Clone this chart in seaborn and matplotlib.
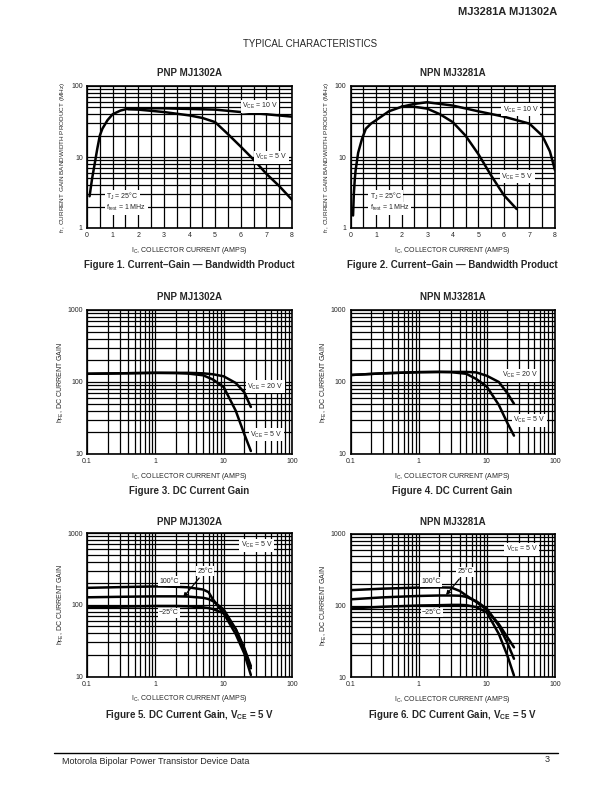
import numpy as np
import pandas as pd
import seaborn as sns
from matplotlib import pyplot as plt
from matplotlib.ticker import FixedLocator, NullFormatter

# ---- data ----
# Figure 1: PNP MJ1302A, fT vs IC
f1_ic_rise = [0.1, 0.2, 0.3, 0.4, 0.5, 0.6, 0.8, 1.0, 1.3, 1.6, 2.0]
f1_ft_rise = [2.8, 5.0, 8.0, 13.0, 20.0, 25.0, 33.0, 40.0, 45.0, 48.0, 48.5]
f1_ic_10v = [2.0, 3.0, 4.0, 5.0, 6.0, 7.0, 8.0]
f1_ft_10v = [48.5, 48.5, 47.5, 46.5, 43.0, 40.0, 37.0]
f1_ic_5v = [1.6, 2.0, 3.0, 4.0, 4.5, 5.0, 5.5, 6.0, 6.5, 7.0, 7.5, 8.0]
f1_ft_5v = [47.0, 46.5, 43.0, 38.5, 35.5, 31.0, 21.0, 14.0, 9.2, 5.8, 3.9, 2.5]

# Figure 2: NPN MJ3281A, fT vs IC
f2_ic_rise = [0.1, 0.13, 0.17, 0.2, 0.3, 0.45, 0.6, 0.8, 1.0, 1.5, 2.0]
f2_ft_rise = [1.5, 3.0, 5.0, 6.5, 11.5, 18.0, 25.0, 29.5, 33.0, 44.0, 51.0]
f2_ic_10v = [2.0, 2.5, 3.0, 3.5, 4.0, 5.0, 6.0, 7.0, 7.5, 7.8, 8.0]
f2_ft_10v = [51.0, 56.0, 59.0, 56.0, 53.0, 44.0, 37.0, 29.5, 20.0, 12.0, 6.5]
f2_ic_5v = [2.0, 2.5, 3.0, 3.5, 4.0, 4.5, 5.0, 5.5, 6.0, 6.5]
f2_ft_5v = [51.0, 51.0, 48.0, 40.0, 31.0, 20.0, 11.0, 5.5, 2.9, 1.85]

# Figure 3: PNP MJ1302A, hFE vs IC
f3_ic = [0.1, 0.3, 1.0, 2.0, 3.0, 5.0, 7.0, 10.0, 15.0, 20.0, 25.0]
f3_hfe_20v = [130, 132, 134, 134, 134, 132, 128, 120, 97, 72, 45]
f3_hfe_5v = [130, 132, 134, 133, 131, 124, 108, 85, 40, 19, 11]

# Figure 4: NPN MJ3281A, hFE vs IC
f4_ic = [0.1, 0.3, 1.0, 2.0, 3.0, 5.0, 7.0, 10.0, 15.0, 20.0, 25.0]
f4_hfe_20v = [125, 132, 137, 138, 138, 138, 136, 122, 100, 70, 50]
f4_hfe_5v = [125, 132, 137, 138, 137, 130, 110, 86, 48, 27, 18]

# Figure 5: PNP MJ1302A, hFE vs IC at three temperatures
f5_ic = [0.1, 0.3, 1.0, 2.0, 3.0, 5.0, 6.0, 7.0, 10.0, 15.0, 20.0, 25.0]
f5_hfe_100 = [172, 176, 180, 178, 175, 163, 150, 118, 76, 39, 21, 10.5]
f5_hfe_25 = [127, 129, 131, 131, 130, 125, 120, 112, 86, 46, 24, 13]
f5_hfe_m25 = [92, 94, 96, 96, 95, 92, 90, 87, 76, 46, 25, 14]

# Figure 6: NPN MJ3281A, hFE vs IC at three temperatures
f6_ic = [0.1, 0.3, 1.0, 2.0, 3.0, 4.0, 5.0, 7.0, 10.0, 15.0, 20.0, 25.0]
f6_hfe_100 = [164, 172, 178, 179, 178, 160, 138, 112, 87, 55, 36, 26]
f6_hfe_25 = [122, 130, 136, 138, 138, 137, 132, 115, 90, 52, 30, 18]
f6_hfe_m25 = [91, 96, 100, 101, 102, 102, 101, 95, 80, 40, 20, 10.5]

sns.set_style("white")
plt.rcParams["font.family"] = ["Liberation Sans", "DejaVu Sans"]
plt.rcParams["mathtext.fontset"] = "custom"
plt.rcParams["mathtext.rm"] = "Liberation Sans"
plt.rcParams["mathtext.it"] = "Liberation Sans"
plt.rcParams["mathtext.bf"] = "Liberation Sans:bold"

W, H = 612, 792
fig = plt.figure(figsize=(W / 100, H / 100), dpi=100)

GRID_LW = 0.9
CURVE_LW = 1.8
BOX = dict(facecolor="white", edgecolor="none", pad=1.0)


def axes_at(left, top, right, bottom):
    return fig.add_axes([left / W, 1 - bottom / H, (right - left) / W, (bottom - top) / H])


def finish(ax):
    ax.grid(True, which="both", color="black", linewidth=GRID_LW)
    ax.set_axisbelow(True)
    ax.tick_params(which="both", length=0, labelsize=5, pad=3)
    for s in ax.spines.values():
        s.set_visible(True)
        s.set_color("black")
        s.set_linewidth(1.2)
    ax.set_xlabel(r"I$_{\mathrm{C}}$, COLLECTOR CURRENT (AMPS)", fontsize=5, labelpad=4)


def ft_frame(ax):
    ax.set_yscale("log")
    ax.set_xlim(0, 8)
    ax.set_ylim(1, 100)
    ax.xaxis.set_major_locator(FixedLocator(range(0, 9)))
    ax.xaxis.set_minor_locator(FixedLocator(np.arange(0.5, 8, 1.0)))
    ax.yaxis.set_major_locator(FixedLocator([1, 10, 100]))
    ax.yaxis.set_minor_locator(FixedLocator([m * d for d in (1, 10) for m in range(2, 10)]))
    ax.yaxis.set_minor_formatter(NullFormatter())
    ax.set_yticklabels(["1", "10", "100"])
    ax.set_ylabel(r"f$_{\mathrm{T}}$, CURRENT GAIN BANDWIDTH PRODUCT (MHz)", fontsize=4.6, labelpad=3)
    finish(ax)


def hfe_frame(ax):
    ax.set_xscale("log")
    ax.set_yscale("log")
    ax.set_xlim(0.1, 100)
    ax.set_ylim(10, 1000)
    ax.xaxis.set_major_locator(FixedLocator([0.1, 1, 10, 100]))
    ax.xaxis.set_minor_locator(FixedLocator([m * d for d in (0.1, 1, 10) for m in range(2, 10)]))
    ax.yaxis.set_major_locator(FixedLocator([10, 100, 1000]))
    ax.yaxis.set_minor_locator(FixedLocator([m * d for d in (10, 100) for m in range(2, 10)]))
    ax.xaxis.set_minor_formatter(NullFormatter())
    ax.yaxis.set_minor_formatter(NullFormatter())
    ax.set_xticklabels(["0.1", "1", "10", "100"])
    ax.set_yticklabels(["10", "100", "1000"])
    ax.set_ylabel(r"h$_{\mathrm{FE}}$, DC CURRENT GAIN", fontsize=5, labelpad=1)
    finish(ax)


def curve(ax, x, y):
    df = pd.DataFrame({"x": x, "y": y})
    sns.lineplot(data=df, x="x", y="y", ax=ax, color="black", linewidth=CURVE_LW,
                 estimator=None, sort=False, zorder=3)


def vce(v):
    return r"V$_{\mathrm{CE}}$ = " + v


def label(ax, x, y, s, ha="center"):
    ax.text(x, y, s, fontsize=5, ha=ha, va="center", bbox=BOX, zorder=5)


def arrow_label(ax, s, tip, at):
    ax.annotate(s, xy=tip, xytext=at, fontsize=5, ha="center", va="center",
                bbox=BOX, zorder=5,
                arrowprops=dict(arrowstyle="-|>", color="black", lw=0.9, mutation_scale=6,
                                shrinkA=2, shrinkB=0))


# ---- row 1: fT ----
ax1 = axes_at(87, 86, 292, 228)
curve(ax1, f1_ic_rise, f1_ft_rise)
curve(ax1, f1_ic_10v, f1_ft_10v)
curve(ax1, f1_ic_5v, f1_ft_5v)
ft_frame(ax1)
label(ax1, 6.75, 52, vce("10 V"))
label(ax1, 7.2, 9.9, vce("5 V"))
label(ax1, 0.75, 2.76, r"T$_{\mathrm{J}}$ = 25°C", ha="left")
label(ax1, 0.75, 1.91, r"f$_{\mathrm{test}}$ = 1 MHz", ha="left")

ax2 = axes_at(350.5, 86, 555, 228)
curve(ax2, f2_ic_rise, f2_ft_rise)
curve(ax2, f2_ic_10v, f2_ft_10v)
curve(ax2, f2_ic_5v, f2_ft_5v)
ft_frame(ax2)
label(ax2, 6.66, 46, vce("10 V"))
label(ax2, 6.53, 5.3, vce("5 V"))
label(ax2, 0.75, 2.76, r"T$_{\mathrm{J}}$ = 25°C", ha="left")
label(ax2, 0.75, 1.89, r"f$_{\mathrm{test}}$ = 1 MHz", ha="left")

# ---- row 2: hFE ----
ax3 = axes_at(87, 310, 292, 454)
curve(ax3, f3_ic, f3_hfe_20v)
curve(ax3, f3_ic, f3_hfe_5v)
hfe_frame(ax3)
label(ax3, 41, 86, vce("20 V"))
label(ax3, 42, 18.4, vce("5 V"))

ax4 = axes_at(350.5, 310, 555, 454)
curve(ax4, f4_ic, f4_hfe_20v)
curve(ax4, f4_ic, f4_hfe_5v)
hfe_frame(ax4)
label(ax4, 30.7, 125, vce("20 V"))
label(ax4, 41.6, 29.6, vce("5 V"))

# ---- row 3: hFE vs temperature ----
ax5 = axes_at(87, 533, 292, 676.5)
curve(ax5, f5_ic, f5_hfe_100)
curve(ax5, f5_ic, f5_hfe_25)
curve(ax5, f5_ic, f5_hfe_m25)
hfe_frame(ax5)
label(ax5, 30.4, 680, vce("5 V"))
label(ax5, 1.58, 214, "100°C")
label(ax5, 1.58, 77, "−25°C")
arrow_label(ax5, "25°C", (2.56, 127), (5.33, 295))

ax6 = axes_at(350.5, 534, 555, 677)
curve(ax6, f6_ic, f6_hfe_100)
curve(ax6, f6_ic, f6_hfe_25)
curve(ax6, f6_ic, f6_hfe_m25)
hfe_frame(ax6)
label(ax6, 32.4, 612, vce("5 V"))
label(ax6, 1.5, 214, "100°C")
label(ax6, 1.57, 80, "−25°C")
arrow_label(ax6, "25°C", (2.52, 140), (4.8, 295))


# ---- titles and captions ----
def ptext(x, y, s, **kw):
    fig.text(x / W, 1 - y / H, s, **kw)


for cx, title, cap1, cap2, cap3 in [
    (189.5, "PNP MJ1302A", "Figure 1. Current\u2013Gain \u2014 Bandwidth Product",
     "Figure 3. DC Current Gain", r"Figure 5. DC Current Gain, V$_{\mathbf{CE}}$ = 5 V"),
    (452.5, "NPN MJ3281A", "Figure 2. Current\u2013Gain \u2014 Bandwidth Product",
     "Figure 4. DC Current Gain", r"Figure 6. DC Current Gain, V$_{\mathbf{CE}}$ = 5 V"),
]:
    for ty in (73, 297, 522):
        ptext(cx, ty, title, fontsize=7, fontweight="bold", ha="center", va="center")
    ptext(cx, 265, cap1, fontsize=7, fontweight="bold", ha="center", va="center")
    ptext(cx, 491, cap2, fontsize=7, fontweight="bold", ha="center", va="center")
    ptext(cx, 715, cap3, fontsize=7, fontweight="bold", ha="center", va="center")

ptext(557, 12, "MJ3281A MJ1302A", fontsize=8, fontweight="heavy", ha="right", va="center")
ptext(310, 44, "TYPICAL CHARACTERISTICS", fontsize=7, ha="center", va="center")

fig.add_artist(plt.Line2D([54 / W, 558 / W], [1 - 753 / H, 1 - 753 / H], color="black", linewidth=1.0))
ptext(62, 762, "Motorola Bipolar Power Transistor Device Data", fontsize=6.5, ha="left", va="center")
ptext(550, 760, "3", fontsize=6.5, ha="right", va="center")

fig.savefig("out.png", dpi=100)
